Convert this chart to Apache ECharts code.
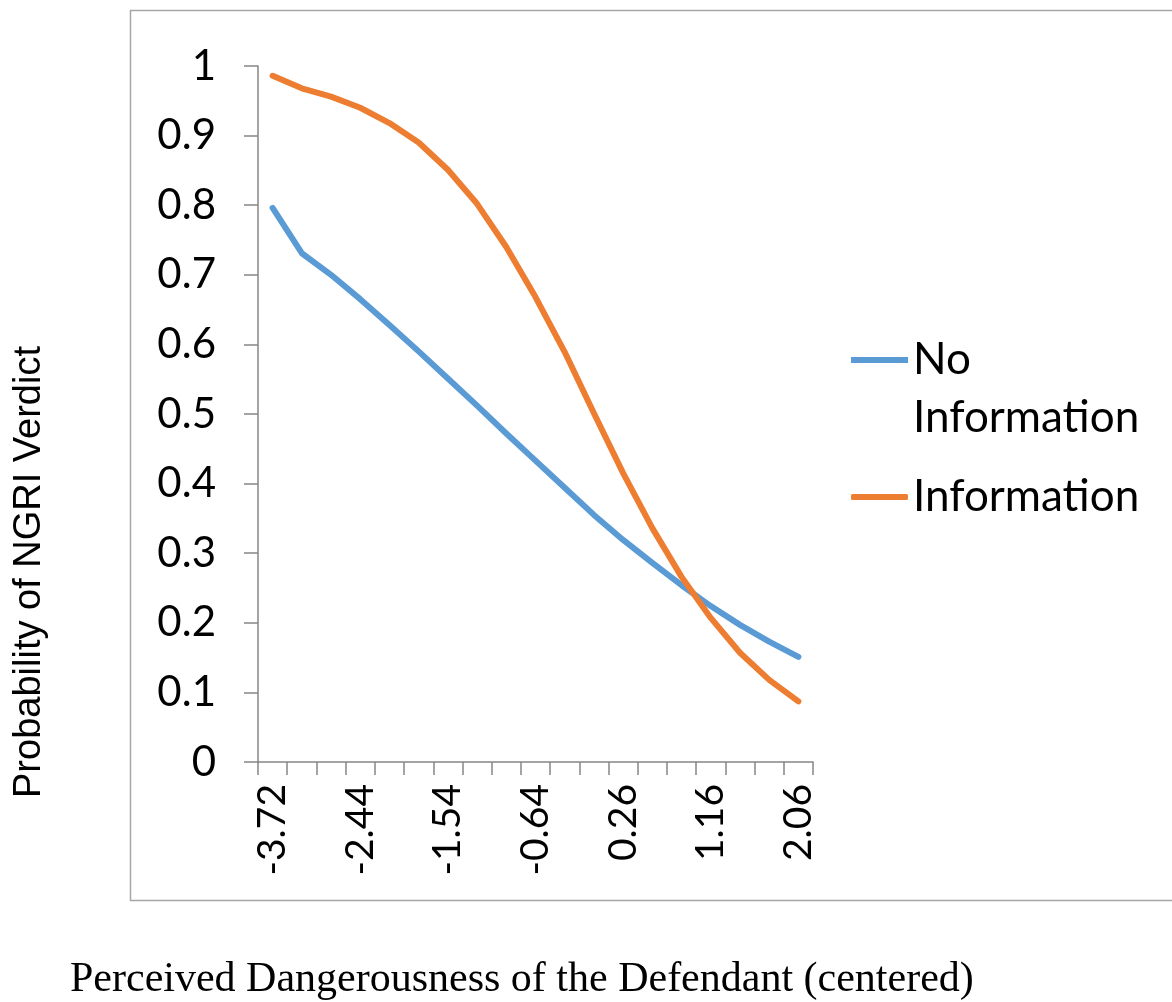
<!DOCTYPE html>
<html>
<head>
<meta charset="utf-8">
<script src="https://cdn.jsdelivr.net/npm/echarts@6/dist/echarts.min.js"></script>
<style>html,body{margin:0;padding:0;background:#fff;}#chart{width:1172px;height:1002px;}</style>
</head>
<body>
<div id="chart"></div>
<script>
var categories = ['-3.72','-3.04','-2.74','-2.44','-2.14','-1.84','-1.54','-1.24','-0.94','-0.64','-0.34','-0.04','0.26','0.56','0.86','1.16','1.46','1.76','2.06'];
var noInformation = [0.796,0.731,0.700,0.665,0.628,0.590,0.551,0.512,0.472,0.433,0.394,0.355,0.319,0.286,0.254,0.224,0.197,0.173,0.151];
var information = [0.986,0.968,0.956,0.940,0.918,0.890,0.851,0.802,0.740,0.668,0.589,0.501,0.415,0.336,0.266,0.207,0.157,0.118,0.087];
var seriesNames = ['No Information','Information'];
var yTitle = 'Probability of NGRI Verdict';
var xTitle = 'Perceived Dangerousness of the Defendant (centered)';

var chart = echarts.init(document.getElementById('chart'));
var axisColor = '#868686';
// legend icon for the two-line item: bar sits on the first text line
var topLineIcon = 'path://M0,0L0,0M0,26L57,26L57,32L0,32ZM0,116L0,116';
chart.setOption({
  backgroundColor: '#fff',
  animation: false,
  graphic: [
    { type: 'rect', shape: { x: 130.5, y: 10.5, width: 1100, height: 890 }, style: { fill: 'none', stroke: '#a6a6a6', lineWidth: 1.5 }, z: -1 },
    { type: 'text', x: 70, y: 980, style: { text: xTitle, font: '42px "Liberation Serif"', fill: '#000', textVerticalAlign: 'middle', textAlign: 'left' } },
    { type: 'text', x: 30, y: 572, rotation: Math.PI / 2, style: { text: yTitle, font: '38px "Liberation Sans"', fill: '#000', textVerticalAlign: 'middle', textAlign: 'center' } }
  ],
  grid: { left: 258, right: 359, top: 66, bottom: 240 },
  legend: [{
    data: [seriesNames[0]],
    left: 846, top: 326, orient: 'vertical',
    icon: topLineIcon, itemWidth: 57, itemHeight: 116,
    formatter: function (n) { return n === 'No Information' ? 'No\nInformation' : n; },
    textStyle: { fontFamily: 'Lato', fontSize: 44, color: '#000', lineHeight: 58 }
  }, {
    data: [seriesNames[1]],
    left: 846, top: 463, orient: 'vertical',
    icon: 'roundRect', itemWidth: 57, itemHeight: 6,
    textStyle: { fontFamily: 'Lato', fontSize: 44, color: '#000', lineHeight: 58 }
  }],
  xAxis: {
    type: 'category', data: categories, boundaryGap: true,
    axisLine: { lineStyle: { color: axisColor, width: 1.5 } },
    axisTick: { show: true, interval: 0, length: 13, lineStyle: { color: axisColor, width: 1.5 } },
    axisLabel: { interval: 2, rotate: 90, margin: 22, fontFamily: 'Lato', fontSize: 39, color: '#000' },
    splitLine: { show: false }
  },
  yAxis: {
    type: 'value', min: 0, max: 1, interval: 0.1,
    axisLine: { show: true, lineStyle: { color: axisColor, width: 1.5 } },
    axisTick: { show: true, length: 14, lineStyle: { color: axisColor, width: 1.5 } },
    axisLabel: { margin: 42, fontFamily: 'Lato', fontSize: 42, color: '#000' },
    splitLine: { show: false }
  },
  series: [
    { name: seriesNames[0], type: 'line', data: noInformation, showSymbol: false, symbol: 'none',
      lineStyle: { color: '#5B9BD5', width: 6, cap: 'round', join: 'round' }, itemStyle: { color: '#5B9BD5' } },
    { name: seriesNames[1], type: 'line', data: information, showSymbol: false, symbol: 'none',
      lineStyle: { color: '#ED7D31', width: 6, cap: 'round', join: 'round' }, itemStyle: { color: '#ED7D31' } }
  ]
});
</script>
</body>
</html>
